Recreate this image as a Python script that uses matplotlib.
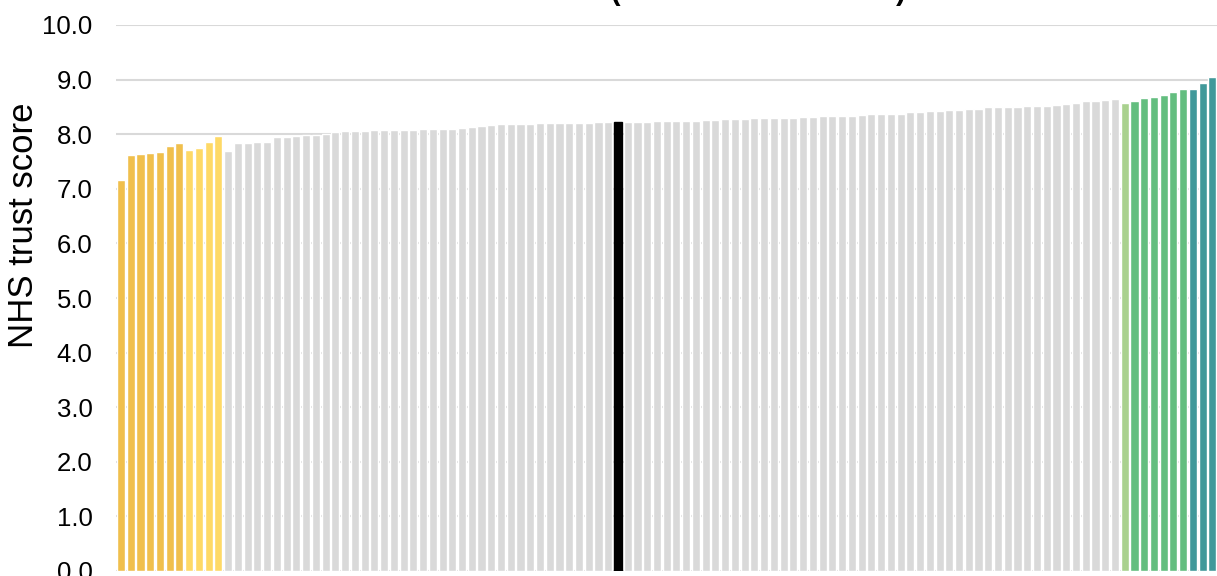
import numpy as np
import matplotlib
matplotlib.use("Agg")
import matplotlib.pyplot as plt

plt.rcParams['font.family'] = ['Liberation Sans', 'DejaVu Sans']

# trust scores, sorted within each band
scores = [7.16, 7.61, 7.64, 7.65, 7.67, 7.78, 7.83, 7.71, 7.74, 7.85,
          7.96, 7.69, 7.84, 7.84, 7.85, 7.86, 7.95, 7.95, 7.97, 7.99,
          7.99, 8.01, 8.04, 8.05, 8.05, 8.05, 8.07, 8.07, 8.07, 8.07,
          8.08, 8.09, 8.09, 8.09, 8.10, 8.12, 8.14, 8.15, 8.17, 8.18,
          8.19, 8.19, 8.19, 8.20, 8.20, 8.21, 8.21, 8.21, 8.21, 8.22,
          8.22, 8.23, 8.23, 8.23, 8.23, 8.24, 8.24, 8.24, 8.24, 8.25,
          8.26, 8.26, 8.27, 8.27, 8.28, 8.29, 8.29, 8.29, 8.30, 8.30,
          8.31, 8.32, 8.33, 8.34, 8.34, 8.34, 8.35, 8.37, 8.37, 8.37,
          8.37, 8.40, 8.41, 8.42, 8.42, 8.44, 8.44, 8.46, 8.47, 8.49,
          8.49, 8.50, 8.50, 8.51, 8.51, 8.52, 8.53, 8.56, 8.58, 8.60,
          8.60, 8.62, 8.64, 8.57, 8.60, 8.67, 8.69, 8.71, 8.78, 8.82,
          8.83, 8.94, 9.04]

# how many bars fall in each band, left to right
band_names = ["worse", "somewhat worse", "average", "somewhat better", "better", "much better"]
band_sizes = [7, 4, 92, 1, 6, 3]
highlight = 51   # the trust of interest

yticks = np.arange(0, 10.5, 1.0)

band_colors = {"worse": "#F0BF4C", "somewhat worse": "#FED966", "average": "#D9D9D9",
               "somewhat better": "#A9D18E", "better": "#63BE7F", "much better": "#41999A"}

colors = []
for name, n in zip(band_names, band_sizes):
    colors += [band_colors[name]] * n
edges = ['white'] * len(scores)
colors[highlight] = 'black'
edges[highlight] = 'black'

fig = plt.figure(figsize=(12.17, 5.76), dpi=100)
ax = fig.add_axes([116.3 / 1217, 5 / 576, 1 - 116.3 / 1217, (571 - 25) / 576])

x = np.arange(len(scores))
ax.bar(x, scores, width=0.83, color=colors, edgecolor=edges, linewidth=1.0, zorder=3)

ax.set_xlim(-0.48, len(scores) - 0.53)
ax.set_ylim(0, 10)
ax.set_yticks(yticks)
ax.set_yticklabels(["%.1f" % t for t in yticks], fontsize=18.5)
ax.set_xticks([])
ax.tick_params(axis='y', length=0, pad=17)
ax.grid(axis='y', color='#D9D9D9', linewidth=1.5, zorder=0)
for s in ax.spines.values():
    s.set_visible(False)

# y label sits higher than the axes centre (the original plot area ran further up)
fig.text(24 / 1217, 1 - 225 / 576, "NHS trust score", fontsize=25,
         rotation=90, ha='center', va='center')

# title mostly falls above the top edge, only the bracket tails show
fig.text(366 / 1217, 1.0, "NHS trust scores (all NHS acute trusts)",
         fontsize=21, fontweight='bold', ha='left', va='baseline')

fig.savefig("out.png", dpi=100)
